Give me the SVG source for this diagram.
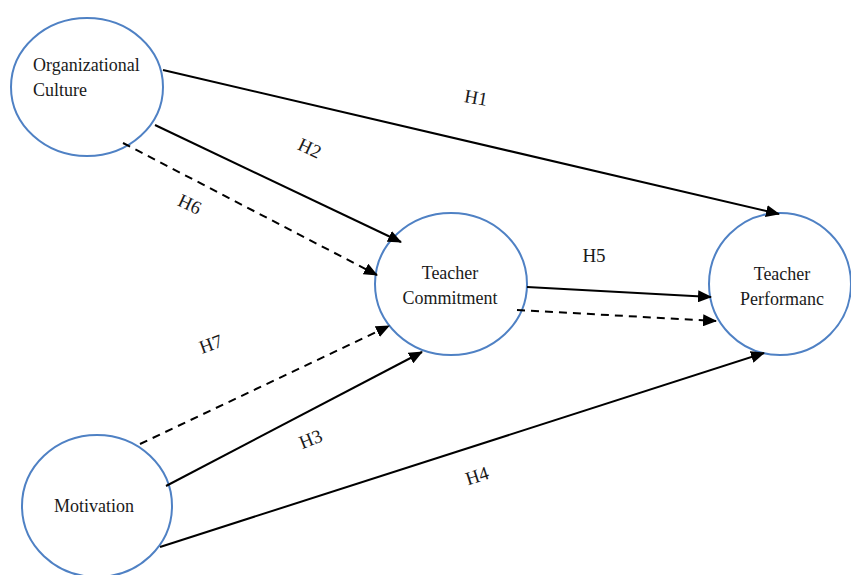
<svg xmlns="http://www.w3.org/2000/svg" width="851" height="575" viewBox="0 0 851 575">
<style>
.node ellipse{fill:#fff;stroke:#4f81c4;stroke-width:2}
text{font-family:"Times New Roman","Liberation Serif","DejaVu Serif",serif;font-size:18px;fill:#1a1a1a}
.c{text-anchor:middle}
.lbl{font-size:19px}
.edge{stroke:#000;stroke-width:2;fill:none}
.dash{stroke-dasharray:8 6}
</style>
<defs>
<marker id="ah" markerUnits="userSpaceOnUse" markerWidth="14" markerHeight="12" refX="13" refY="6" orient="auto">
<path d="M0,0 L14,6 L0,12 Z" fill="#000"/>
</marker>
</defs>
<rect width="851" height="575" fill="#fff"/>
<g id="n-org" class="node">
<ellipse cx="87" cy="87" rx="76" ry="69"/>
<text x="33" y="71">Organizational</text>
<text x="33" y="96">Culture</text>
</g>
<g id="n-tc" class="node">
<ellipse cx="451" cy="284" rx="76" ry="71"/>
<text class="c" x="450" y="279">Teacher</text>
<text class="c" x="450" y="304">Commitment</text>
</g>
<g id="n-tp" class="node">
<ellipse cx="780" cy="284" rx="71" ry="71"/>
<text class="c" x="782" y="280">Teacher</text>
<text class="c" x="782" y="305">Performanc</text>
</g>
<g id="n-mot" class="node">
<ellipse cx="97" cy="506" rx="75" ry="71"/>
<text class="c" x="94" y="512">Motivation</text>
</g>
<g id="connectors">
<line class="edge" x1="163" y1="70" x2="779" y2="214" marker-end="url(#ah)"/>
<line class="edge" x1="155" y1="125" x2="401" y2="242" marker-end="url(#ah)"/>
<line class="edge dash" x1="123" y1="143" x2="377" y2="275" marker-end="url(#ah)"/>
<line class="edge" x1="527" y1="287" x2="711" y2="297" marker-end="url(#ah)"/>
<line class="edge dash" x1="517" y1="310" x2="716" y2="321" marker-end="url(#ah)"/>
<line class="edge dash" x1="140" y1="444" x2="389" y2="326" marker-end="url(#ah)"/>
<line class="edge" x1="166" y1="486" x2="422" y2="352" marker-end="url(#ah)"/>
<line class="edge" x1="160" y1="547" x2="764" y2="353" marker-end="url(#ah)"/>
</g>
<g id="labels">
<text class="c lbl" transform="translate(475,104) rotate(10)">H1</text>
<text class="c lbl" transform="translate(307,154) rotate(25)">H2</text>
<text class="c lbl" transform="translate(187,210) rotate(25)">H6</text>
<text class="c lbl" x="594" y="262">H5</text>
<text class="c lbl" transform="translate(213,350) rotate(-20)">H7</text>
<text class="c lbl" transform="translate(313,445) rotate(-22)">H3</text>
<text class="c lbl" transform="translate(479,482) rotate(-18)">H4</text>
</g>
</svg>
